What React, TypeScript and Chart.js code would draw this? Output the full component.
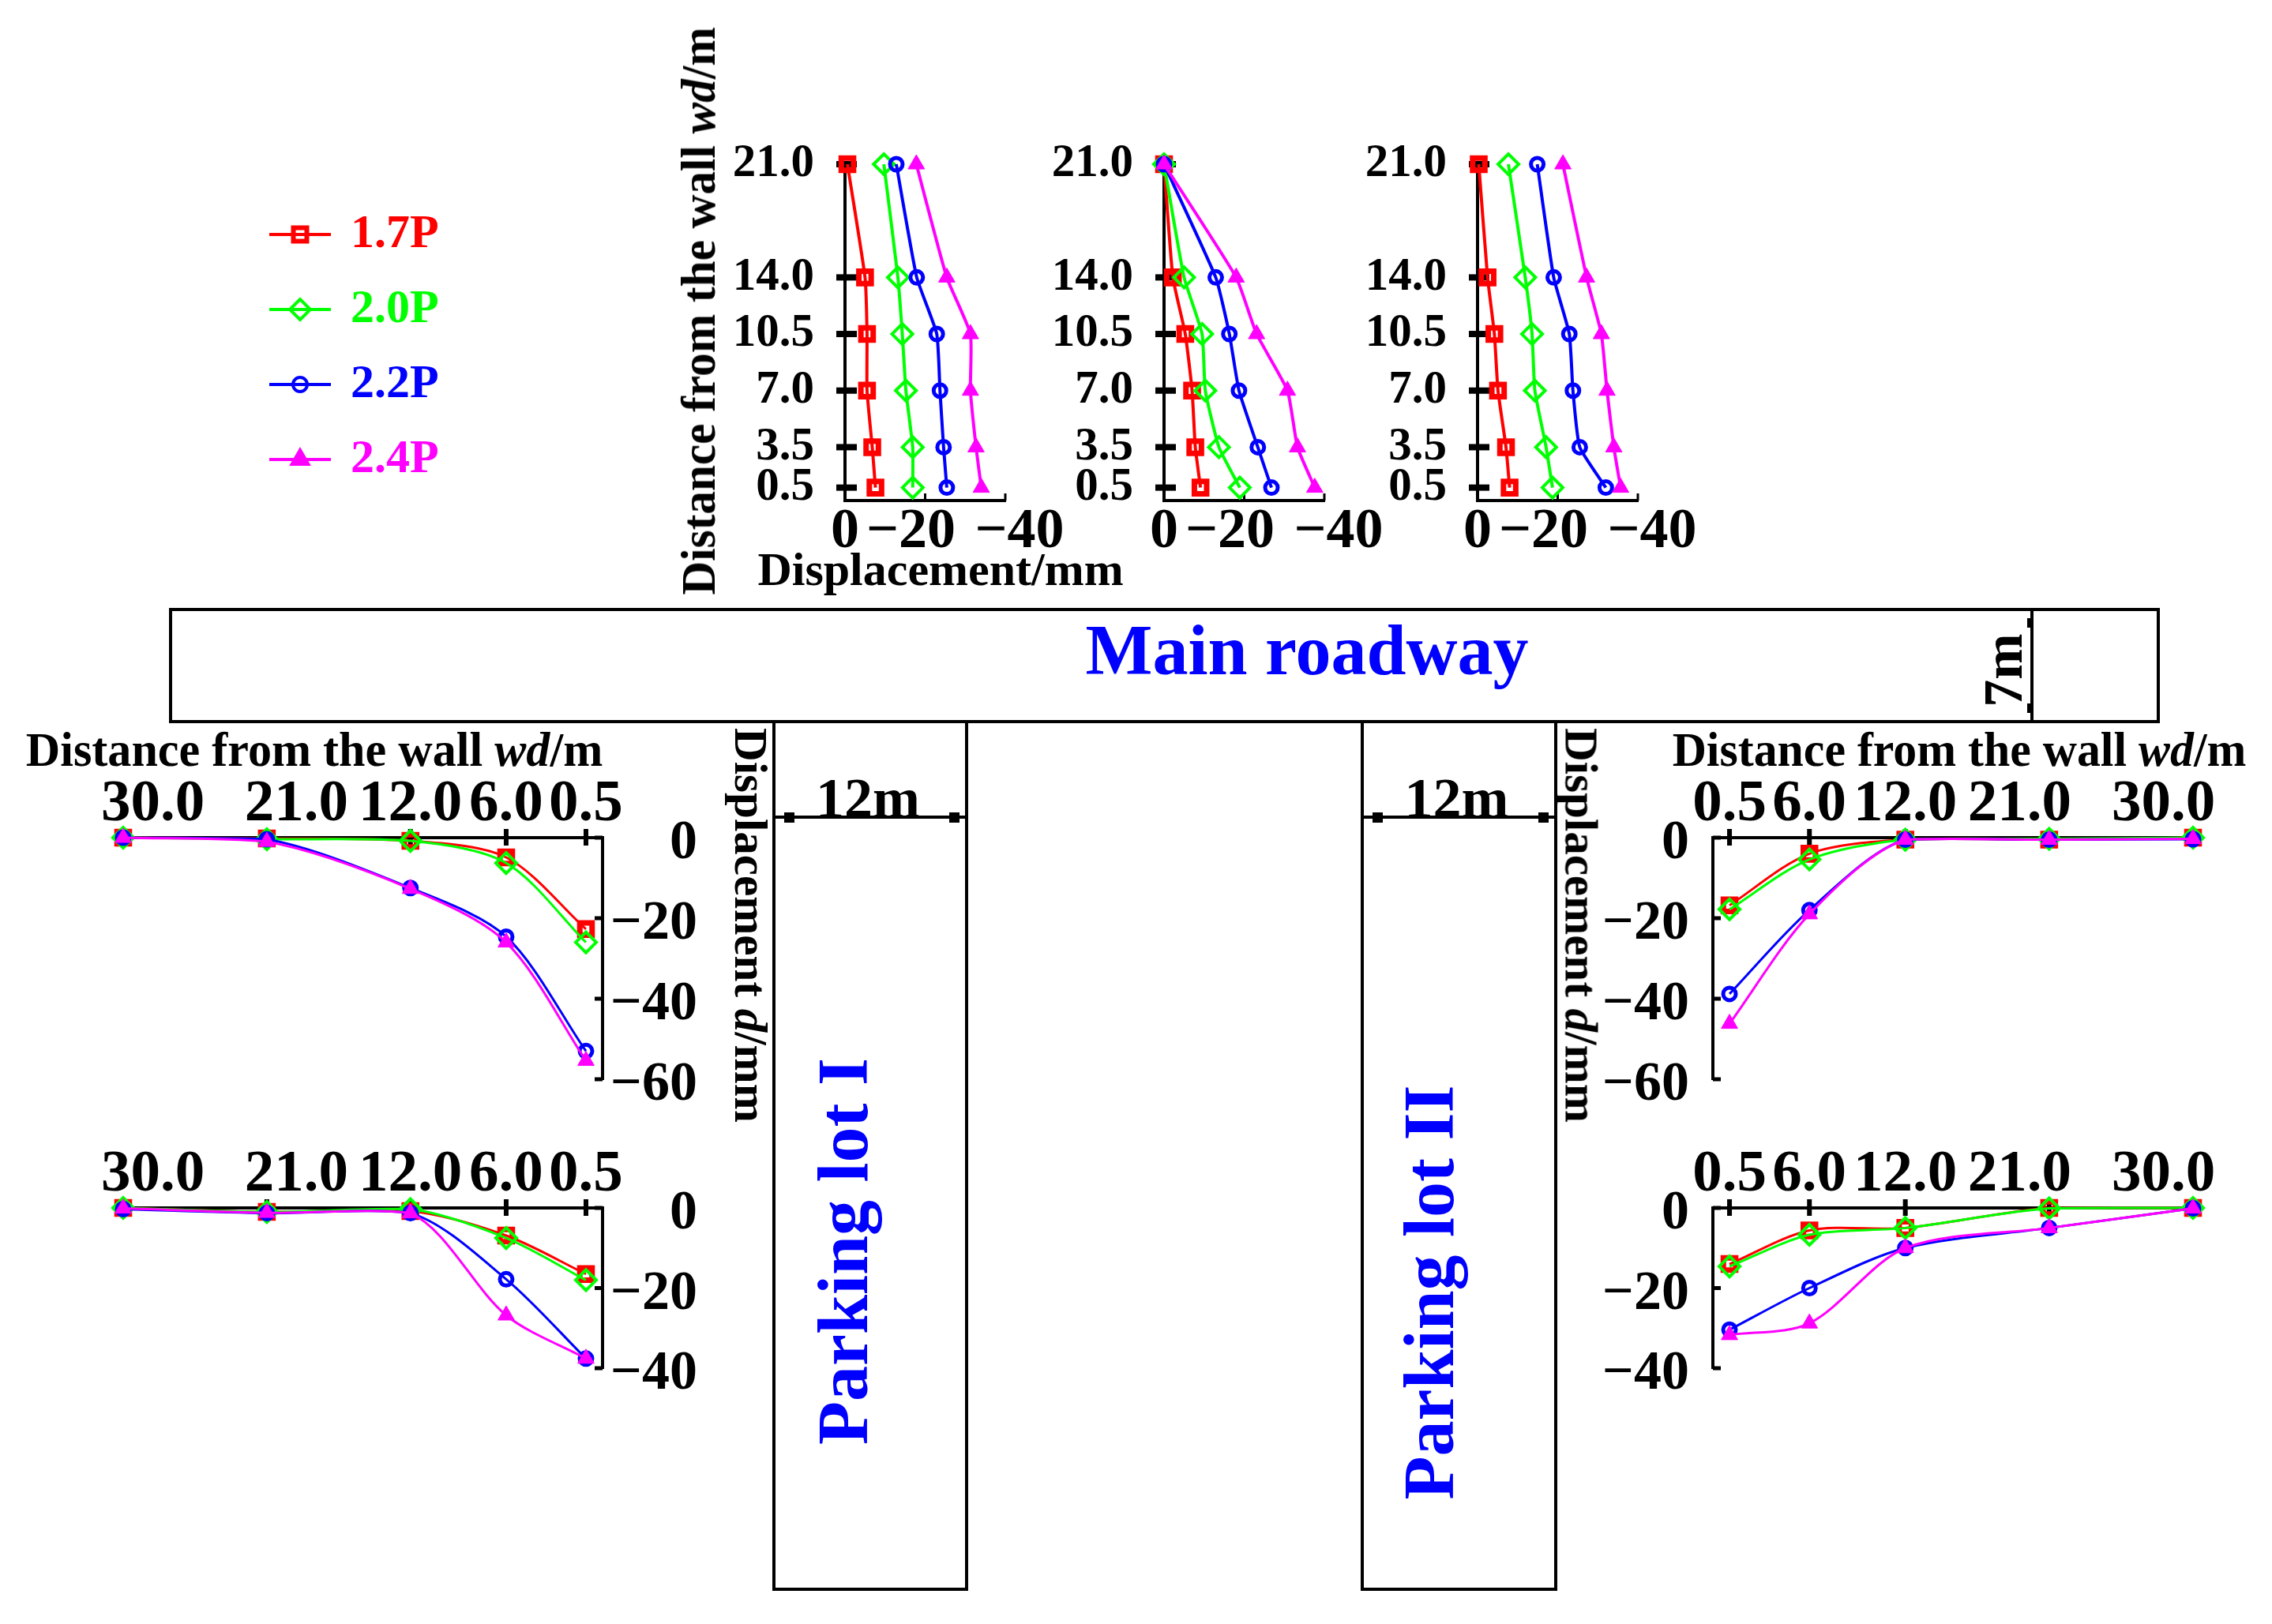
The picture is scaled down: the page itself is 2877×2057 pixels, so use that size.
import React, { useEffect, useRef } from 'react';
import { Chart, registerables } from 'chart.js';
import { drawPoint } from 'chart.js/helpers';

Chart.register(...registerables);

const FONT = '"Liberation Serif", "Times New Roman", serif';

// ---- series names and colours
const seriesNames = ['1.7P', '2.0P', '2.2P', '2.4P'];
const seriesColors = ['#ff0000', '#00ff00', '#0000ff', '#ff00ff'];

// ---- upper panels: distance from the wall (position on the axis, and its label)
const wallPositions = [21, 14, 10.5, 7, 3.5, 1];
const wallLabels = ['21.0', '14.0', '10.5', '7.0', '3.5', '0.5'];
const upperDispTicks = [0, -20, -40];
const upperDispLabels = ['0', '\u221220  ', '  \u221240'];

const upperA17 = [-0.6, -5, -5.5, -5.5, -6.8, -7.6];
const upperA20 = [-9.7, -13.2, -14.3, -15.2, -16.9, -16.9];
const upperA22 = [-12.8, -17.9, -22.9, -23.7, -24.6, -25.4];
const upperA24 = [-17.8, -25.4, -31.3, -31.3, -32.7, -34];

const upperB17 = [0, -2.2, -5.3, -7, -7.8, -9.1];
const upperB20 = [0, -5, -9.5, -10.3, -13.7, -18.9];
const upperB22 = [0, -12.9, -16.3, -18.7, -23.4, -26.8];
const upperB24 = [0, -18, -23.1, -30.8, -33.3, -37.6];

const upperC17 = [-0.3, -2.5, -4.2, -5.1, -7.1, -8];
const upperC20 = [-7.7, -11.9, -13.6, -14.3, -17.1, -18.7];
const upperC22 = [-14.9, -19, -22.9, -23.8, -25.5, -32];
const upperC24 = [-21.3, -27.2, -30.9, -32.3, -34, -35.7];

// ---- parking-lot panels: distance from the wall
const lotPositions = [30, 21, 12, 6, 1];
const lotLabels = ['30.0', '21.0', '12.0', '6.0', '0.5'];
const disp60Ticks = [0, -20, -40, -60];
const disp60Labels = ['0', '\u221220', '\u221240', '\u221260'];
const disp40Ticks = [0, -20, -40];
const disp40Labels = ['0', '\u221220', '\u221240'];

const lotIa17 = [0, -0.2, -0.8, -4.9, -22.7];
const lotIa20 = [0, -0.4, -0.8, -6.3, -26];
const lotIa22 = [0, -0.4, -12.5, -24.6, -53];
const lotIa24 = [0, -1, -12.7, -26, -55.4];

const lotIb17 = [0, -1, -0.8, -6.9, -16.5];
const lotIb20 = [0, -1, -0.3, -7.5, -18];
const lotIb22 = [-0.3, -1.3, -1.3, -17.8, -37.6];
const lotIb24 = [-0.1, -1.2, -1.3, -26.8, -37.6];

const lotIIa17 = [0, -0.5, -0.5, -4, -16.8];
const lotIIa20 = [0, -0.3, -0.5, -5.4, -17.8];
const lotIIa22 = [-0.4, -0.5, -0.5, -18, -38.8];
const lotIIa24 = [-0.3, -0.5, -0.5, -19, -46.2];

const lotIIb17 = [0, 0, -5, -5.6, -14];
const lotIIb20 = [0, -0.1, -5, -6.7, -14.6];
const lotIIb22 = [-0.1, -5, -10, -20, -30.4];
const lotIIb24 = [-0.1, -5, -10, -28.8, -31.7];

const markerStyles = [
  { pointStyle: 'rect', pointRadius: 11, pointBorderWidth: 7, pointBackgroundColor: 'rgba(255,255,255,0)' },
  { pointStyle: 'rectRot', pointRadius: 13, pointBorderWidth: 4, pointBackgroundColor: 'rgba(255,255,255,0)' },
  { pointStyle: 'circle', pointRadius: 8, pointBorderWidth: 5, pointBackgroundColor: 'rgba(255,255,255,0)' },
  { pointStyle: 'triangle', pointRadius: 12, pointBorderWidth: 1, pointBackgroundColor: seriesColors[3] },
];

// Draws the short axis tick stubs on both sides of an axis, from the scale's own ticks.
const axisStubs = {
  id: 'axisStubs',
  beforeDatasetsDraw(chart: any, _a: any, opts: any) {
    if (!opts || !opts.x) return;
    const { ctx, chartArea, scales } = chart;
    ctx.save();
    ctx.fillStyle = '#000';
    const xs = scales.x;
    const ax = xs.position === 'top' ? chartArea.top : chartArea.bottom;
    xs.ticks.forEach((t: any) => {
      const p = xs.getPixelForValue(t.value);
      ctx.fillRect(p - opts.x.w / 2, ax - opts.x.a, opts.x.w, opts.x.a + opts.x.b);
    });
    const ys = scales.y;
    const ay = ys.position === 'left' ? chartArea.left : chartArea.right;
    ys.ticks.forEach((t: any) => {
      const p = ys.getPixelForValue(t.value);
      ctx.fillRect(ay - opts.y.a, p - opts.y.w / 2, opts.y.a + opts.y.b, opts.y.w);
    });
    ctx.restore();
  },
};

function makeDatasets(rows: number[][], wall: number[], horizontalIsValue: boolean, lineWidth: number, tension: number) {
  return rows.map((vals, i) => ({
    label: seriesNames[i],
    data: vals.map((v, k) => (horizontalIsValue ? { x: v, y: wall[k] } : { x: wall[k], y: v })),
    borderColor: seriesColors[i],
    backgroundColor: seriesColors[i],
    pointBorderColor: seriesColors[i],
    borderWidth: lineWidth,
    tension,
    clip: false,
    order: 3 - i,
    parsing: false,
    ...markerStyles[i],
  }));
}

function fixedTicks(values: number[], labels: string[], extra: any) {
  return {
    type: 'linear',
    afterBuildTicks: (s: any) => {
      s.ticks = values.map((v) => ({ value: v }));
    },
    border: { display: true, color: '#000', width: 4 },
    grid: { display: false, drawTicks: false },
    ...extra,
    ticks: {
      autoSkip: false,
      maxRotation: 0,
      minRotation: 0,
      color: '#000',
      callback: (_v: any, i: number) => labels[i],
      ...extra.ticks,
    },
  };
}

const PAD_A = 120;
const UP_TOP = 80;
const Y_RIGHT = 120;
const Y_LEFT = 150;

function upperConfig(rows: number[][]) {
  return {
    type: 'line',
    data: { datasets: makeDatasets(rows, wallPositions, true, 4, 0.15) },
    options: {
      animation: false,
      responsive: false,
      layout: { padding: { top: UP_TOP, right: 100, left: 0, bottom: 0 } },
      plugins: {
        legend: { display: false },
        tooltip: { enabled: false },
        axisStubs: { x: { a: 9, b: 0, w: 3 }, y: { a: 11, b: 15, w: 8 } },
      },
      scales: {
        x: fixedTicks(upperDispTicks, upperDispLabels, {
          position: 'bottom',
          min: -40,
          max: 0,
          reverse: true,
          afterFit: (s: any) => { s.height = 110; },
          ticks: { padding: 4, font: { family: FONT, weight: 'bold', size: 72, lineHeight: 1 } },
        }),
        y: fixedTicks(wallPositions, wallLabels, {
          position: 'left',
          min: 0.2,
          max: 21,
          afterFit: (s: any) => { s.width = 160; },
          ticks: { padding: 39, font: { family: FONT, weight: 'bold', size: 59, lineHeight: 1 } },
        }),
      },
    },
    plugins: [axisStubs],
  };
}

function lotConfig(rows: number[][], mirrored: boolean, yMin: number, yTicks: number[], yLabels: string[], shifts: number[]) {
  const xLabels = lotLabels.map((l, i) => ' '.repeat(Math.max(shifts[i], 0)) + l + ' '.repeat(Math.max(-shifts[i], 0)));
  return {
    type: 'line',
    data: { datasets: makeDatasets(rows, lotPositions, false, 3, 0.3) },
    options: {
      animation: false,
      responsive: false,
      layout: { padding: mirrored ? { left: PAD_A, bottom: 70, top: 0, right: 0 } : { right: PAD_A, bottom: 70, top: 0, left: 0 } },
      plugins: {
        legend: { display: false },
        tooltip: { enabled: false },
        axisStubs: { x: { a: 11, b: 10, w: 6 }, y: { a: mirrored ? 10 : 0, b: mirrored ? 0 : 10, w: 5 } },
      },
      scales: {
        x: fixedTicks(lotPositions, xLabels, {
          position: 'top',
          min: -0.04,
          max: 30,
          reverse: mirrored,
          afterFit: (s: any) => { s.height = 110; },
          ticks: { padding: 4, font: { family: FONT, weight: 'bold', size: 75, lineHeight: 1 } },
        }),
        y: fixedTicks(yTicks, yLabels, {
          position: mirrored ? 'right' : 'left',
          min: yMin,
          max: 0,
          afterFit: (s: any) => { s.width = mirrored ? Y_RIGHT : Y_LEFT; },
          ticks: {
            padding: mirrored ? 9 : 30,
            crossAlign: mirrored ? 'far' : 'near',
            labelOffset: 8,
            font: { family: FONT, weight: 'bold', size: 70, lineHeight: 1 },
          },
        }),
      },
    },
    plugins: [axisStubs],
  };
}

function legendIcon(i: number) {
  const c = document.createElement('canvas');
  c.width = 78;
  c.height = 32;
  const g = c.getContext('2d') as CanvasRenderingContext2D;
  g.strokeStyle = seriesColors[i];
  g.fillStyle = i === 3 ? seriesColors[3] : 'rgba(255,255,255,0)';
  g.lineWidth = 4;
  g.beginPath();
  g.moveTo(0, 16);
  g.lineTo(78, 16);
  g.stroke();
  g.lineWidth = i === 0 ? 6 : 4;
  drawPoint(g, { pointStyle: markerStyles[i].pointStyle as any, radius: [12, 13, 9, 12][i], borderWidth: g.lineWidth, rotation: 0 } as any, 39, 16);
  return c;
}

function legendConfig() {
  return {
    type: 'line',
    data: { datasets: seriesNames.map((n, i) => ({ label: n, data: [], borderColor: seriesColors[i], backgroundColor: seriesColors[i] })) },
    options: {
      animation: false,
      responsive: false,
      scales: { x: { display: false }, y: { display: false } },
      layout: { padding: 0 },
      plugins: {
        tooltip: { enabled: false },
        legend: {
          position: 'left',
          align: 'start',
          labels: {
            usePointStyle: true,
            pointStyleWidth: 68,
            padding: 35,
            font: { family: FONT, weight: 'bold', size: 60, lineHeight: 1.2 },
            generateLabels: (chart: any) =>
              chart.data.datasets.map((d: any, i: number) => ({
                text: d.label,
                fontColor: seriesColors[i],
                fillStyle: seriesColors[i],
                strokeStyle: seriesColors[i],
                lineWidth: 0,
                pointStyle: legendIcon(i),
                rotation: 0,
                hidden: false,
                datasetIndex: i,
              })),
          },
        },
      },
    },
  };
}

type Panel = { left: number; top: number; width: number; height: number; config: () => any };

const panels: Panel[] = [
  { left: 1070 - 160, top: 208 - UP_TOP, width: 160 + 203 + 100, height: UP_TOP + 426 + 110, config: () => upperConfig([upperA17, upperA20, upperA22, upperA24]) },
  { left: 1474 - 160, top: 208 - UP_TOP, width: 160 + 203 + 100, height: UP_TOP + 426 + 110, config: () => upperConfig([upperB17, upperB20, upperB22, upperB24]) },
  { left: 1871 - 160, top: 208 - UP_TOP, width: 160 + 203 + 100, height: UP_TOP + 426 + 110, config: () => upperConfig([upperC17, upperC20, upperC22, upperC24]) },
  { left: 156 - PAD_A, top: 1061 - 110, width: PAD_A + 607 + Y_RIGHT, height: 110 + 306 + 70, config: () => lotConfig([lotIa17, lotIa20, lotIa22, lotIa24], true, -60, disp60Ticks, disp60Labels, [4, 4, 0, 0, 0]) },
  { left: 156 - PAD_A, top: 1530 - 110, width: PAD_A + 607 + Y_RIGHT, height: 110 + 203 + 70, config: () => lotConfig([lotIb17, lotIb20, lotIb22, lotIb24], true, -40, disp40Ticks, disp40Labels, [4, 4, 0, 0, 0]) },
  { left: 2169 - Y_LEFT, top: 1061 - 110, width: Y_LEFT + 608 + PAD_A, height: 110 + 306 + 70, config: () => lotConfig([lotIIa17, lotIIa20, lotIIa22, lotIIa24], false, -60, disp60Ticks, disp60Labels, [-4, -4, 0, 0, 0]) },
  { left: 2169 - Y_LEFT, top: 1530 - 110, width: Y_LEFT + 608 + PAD_A, height: 110 + 203 + 70, config: () => lotConfig([lotIIb17, lotIIb20, lotIIb22, lotIIb24], false, -40, disp40Ticks, disp40Labels, [-4, -4, 0, 0, 0]) },
  { left: 311, top: 232, width: 520, height: 440, config: legendConfig },
];

function ChartCanvas({ panel }: { panel: Panel }) {
  const ref = useRef<HTMLCanvasElement>(null);
  useEffect(() => {
    const chart = new Chart(ref.current as HTMLCanvasElement, panel.config());
    return () => chart.destroy();
  }, [panel]);
  return (
    <canvas
      ref={ref}
      width={panel.width}
      height={panel.height}
      style={{ position: 'absolute', left: panel.left, top: panel.top, width: panel.width, height: panel.height }}
    />
  );
}

function Label({ x, y, size, rot = 0, sx = 1, color = '#000', children }: any) {
  return (
    <div
      style={{
        position: 'absolute',
        left: x,
        top: y,
        transform: `translate(-50%, -50%) rotate(${rot}deg) scaleX(${sx})`,
        fontFamily: FONT,
        fontWeight: 'bold',
        fontSize: size,
        lineHeight: 1,
        color,
        whiteSpace: 'nowrap',
      }}
    >
      {children}
    </div>
  );
}

function Box({ l, t, r, b }: any) {
  return <div style={{ position: 'absolute', boxSizing: 'border-box', left: l - 2, top: t - 2, width: r - l + 4, height: b - t + 4, border: '4px solid #000' }} />;
}

function Solid({ l, t, w, h }: any) {
  return <div style={{ position: 'absolute', left: l, top: t, width: w, height: h, background: '#000' }} />;
}

function Span12({ l, r }: any) {
  return (
    <>
      <Solid l={l} t={1033} w={r - l} h={4} />
      <Solid l={l + 17 - 6} t={1029} w={13} h={13} />
      <Solid l={r - 14 - 6} t={1029} w={13} h={13} />
      <Label x={(l + r) / 2 - 3} y={1011} size={72}>12m</Label>
    </>
  );
}

const wd = <><span>Distance from the wall </span><i>wd</i><span>/m</span></>;
const dd = <><span>Displacement </span><i>d</i><span>/mm</span></>;

export default function App() {
  return (
    <div style={{ position: 'absolute', left: 0, top: 0, width: 2877, height: 2057, overflow: 'hidden', background: '#fff' }}>
      <Box l={216} t={772} r={2733} b={914} />
      <Solid l={2571} t={772} w={4} h={142} />
      <Solid l={2567} t={783} w={5} h={12} />
      <Solid l={2567} t={891} w={5} h={12} />
      <Box l={980} t={914} r={1224} b={2013} />
      <Box l={1725} t={914} r={1970} b={2013} />
      <Span12 l={982} r={1222} />
      <Span12 l={1727} r={1968} />

      {panels.map((p, i) => <ChartCanvas key={i} panel={p} />)}

      <Label x={884} y={394} size={62} sx={0.955} rot={-90}>{wd}</Label>
      <Label x={1191} y={721} size={60}>Displacement/mm</Label>
      <Label x={398} y={949} size={62} sx={0.97}>{wd}</Label>
      <Label x={2481} y={949} size={62} sx={0.965}>{wd}</Label>
      <Label x={950} y={1172} size={59} rot={90}>{dd}</Label>
      <Label x={2002} y={1172} size={59} rot={90}>{dd}</Label>
      <Label x={1655} y={824} size={90} color="#0000ff">Main roadway</Label>
      <Label x={2537} y={849} size={70} rot={-90}>7m</Label>
      <Label x={1068} y={1585} size={90} rot={-90} color="#0000ff">Parking lot I</Label>
      <Label x={1810} y={1637} size={90} rot={-90} color="#0000ff">Parking lot II</Label>
    </div>
  );
}
